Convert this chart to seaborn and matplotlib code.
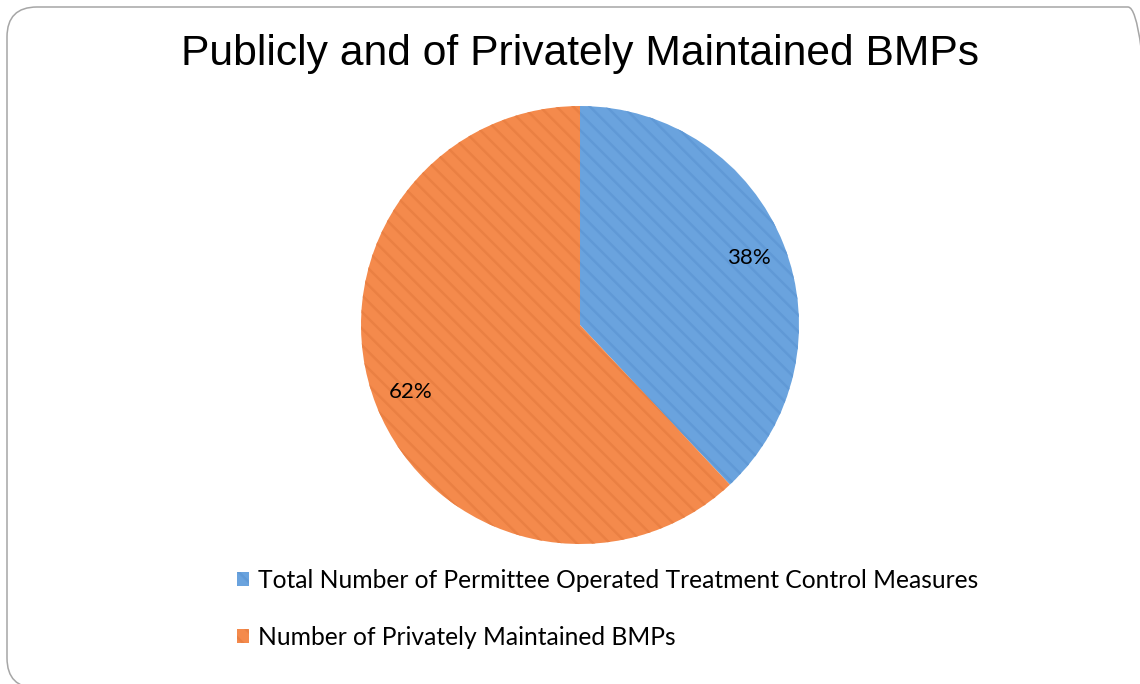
import matplotlib
matplotlib.use("Agg")
import matplotlib.pyplot as plt
from matplotlib.patches import FancyBboxPatch
import seaborn as sns

# Chart data
categories = [
    "Total Number of Permittee Operated Treatment Control Measures",
    "Number of Privately Maintained BMPs",
]
shares = [38, 62]
title = "Publicly and of Privately Maintained BMPs"

sns.set_theme(style="white")
plt.rcParams["font.family"] = ["Lato", "DejaVu Sans"]
plt.rcParams["hatch.linewidth"] = 1.8

face_colors = sns.color_palette(["#6AA3DE", "#F48A4C"])
stripe_colors = sns.color_palette(["#6099D6", "#EA8043"])

W, H, DPI = 1140, 684, 100
fig = plt.figure(figsize=(W / DPI, H / DPI), dpi=DPI)
fig.patch.set_facecolor("white")

# Rounded frame around the chart area (pixel coordinates)
frame = FancyBboxPatch((7, -4), 1151, 681,
                       boxstyle="round,pad=0,rounding_size=30",
                       transform=None, facecolor="none",
                       edgecolor="#A6A6A6", linewidth=1.1)
fig.patches.append(frame)

# Pie axes: centre (580, 325) from top, radius 219 px
cx, cy, r = 580, 325, 219
ax = fig.add_axes([(cx - r) / W, (H - cy - r) / H, 2 * r / W, 2 * r / H])
wedges, texts, autotexts = ax.pie(
    shares,
    colors=face_colors,
    startangle=90,
    counterclock=False,
    autopct="%.0f%%",
    pctdistance=0.83,
    radius=1.0,
    wedgeprops=dict(linewidth=0.6, edgecolor="white"),
    textprops=dict(fontsize=16, color="black"),
)
for w, sc in zip(wedges, stripe_colors):
    w.set_hatch("\\\\")
    w.set_edgecolor(sc)
    w.set_linewidth(0.0)
ax.set_xlim(-1, 1)
ax.set_ylim(-1, 1)
ax.set_aspect("auto")
ax.axis("off")

fig.text(cx / W, 1 - 54 / H, title, ha="center", va="center",
         fontsize=30.7, family=["Liberation Sans", "DejaVu Sans"], color="black")

leg = fig.legend(wedges, categories, loc="upper left",
                 bbox_to_anchor=(237 / W, 1 - 569 / H),
                 frameon=False, fontsize=17.7, labelcolor="black",
                 handlelength=0.5, handleheight=0.5, handletextpad=0.35,
                 labelspacing=1.37, borderaxespad=0, borderpad=0)

fig.savefig("out.png", dpi=DPI, facecolor="white")
